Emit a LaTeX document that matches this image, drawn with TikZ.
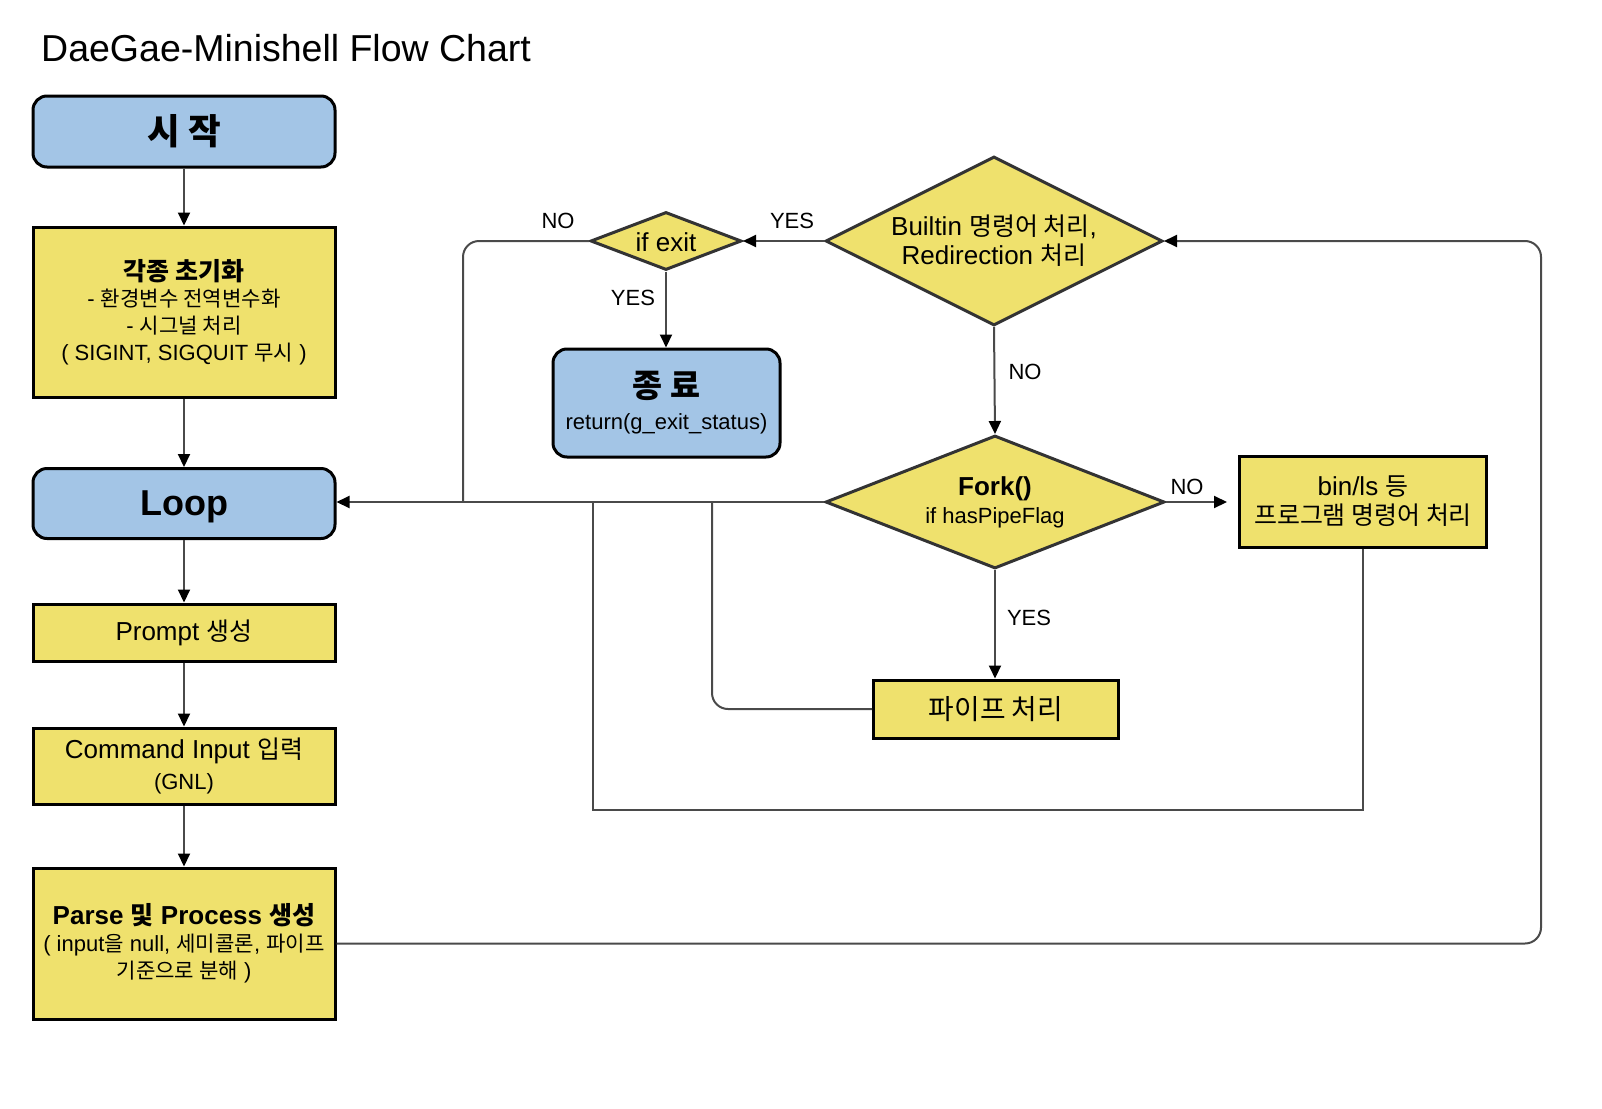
\documentclass[tikz,border=0pt]{standalone}
\usepackage{fontspec}
\setmainfont{Liberation Sans}
\newfontfamily\kr[Scale=0.96]{Noto Sans CJK KR}
\usetikzlibrary{shapes.geometric,arrows.meta}
\definecolor{boxblue}{HTML}{A3C5E6}
\definecolor{boxyellow}{HTML}{EFE16D}
\definecolor{linegray}{HTML}{4A4A4A}
\newcommand\fsz[2]{\fontsize{#1pt}{#2pt}\selectfont}
\begin{document}
\begin{tikzpicture}[x=1pt,y=-1pt,
  term/.style={draw=black, line width=3pt, fill=boxblue, rounded corners=14pt, inner sep=0pt, align=center},
  proc/.style={draw=black, line width=3pt, fill=boxyellow, inner sep=0pt, align=center},
  dec/.style={draw=black!80, line width=3pt, fill=boxyellow, diamond, inner sep=0pt},
  dtext/.style={inner sep=0pt, align=center},
  conn/.style={draw=linegray, line width=2pt},
  arr/.style={conn, -{Triangle[length=13pt,width=12pt,color=black]}},
  lbl/.style={font=\fsz{22}{26}, inner sep=0pt}
]
\useasboundingbox[fill=white] (0,0) rectangle (1602,1108);

\node[anchor=west, font=\fsz{37.5}{40}, inner sep=0pt] (title) at (41,48) {DaeGae-Minishell Flow Chart};

% left column
\node[term, minimum width=302pt, minimum height=71pt, font=\kr\bfseries\fsz{37}{40}] (start) at (184,131.5) {시 작};
\node[proc, minimum width=302pt, minimum height=170pt, font=\fsz{22}{26.7}] (init) at (184,312)
  {{\kr\bfseries\fsz{26}{26.7}각종 초기화}\\- {\kr 환경변수 전역변수화}\\- {\kr 시그널 처리}\\( SIGINT, SIGQUIT {\kr 무시} )};
\node[term, minimum width=302pt, minimum height=70pt, text depth=0pt, font=\bfseries\fsz{36}{40}] (loop) at (184,503.5) {Loop};
\node[proc, minimum width=302pt, minimum height=57pt, font=\fsz{26}{30}] (prompt) at (184,632.5) {Prompt {\kr 생성}};
\node[proc, minimum width=302pt, minimum height=76pt, font=\fsz{26}{31}] (cmd) at (184,766)
  {Command Input {\kr 입력}\\{\fsz{22}{31}(GNL)}};
\node[proc, minimum width=302pt, minimum height=151pt, font=\fsz{22}{27}] (parse) at (184,943.5)
  {{\bfseries\fsz{26}{27}Parse {\kr 및} Process {\kr 생성}}\\( input{\kr 을} null, {\kr 세미콜론}, {\kr 파이프}\\{\kr 기준으로 분해} )};

% decisions and right part
\node[dec, minimum width=151pt, minimum height=58pt] (ifexit) at (666,241) {};
\node[dtext, font=\fsz{26}{30}] (ifexitT) at (666,242) {if exit};
\node[term, minimum width=227pt, minimum height=108pt, font=\fsz{22}{32}] (end) at (666.5,403)
  {{\kr\bfseries\fsz{34}{32}종 료}\\return(g\_exit\_status)};
\node[dec, minimum width=337pt, minimum height=169pt] (builtin) at (994,241) {};
\node[dtext, font=\fsz{26}{29}] (builtinT) at (994,241) {Builtin {\kr 명령어 처리},\\Redirection {\kr 처리}};
\node[dec, minimum width=339pt, minimum height=133pt] (fork) at (995,502) {};
\node[dtext, font=\fsz{22}{28}] (forkT) at (995,502) {{\bfseries\fsz{26}{28}Fork()}\\if hasPipeFlag};
\node[proc, minimum width=247pt, minimum height=91pt, font=\fsz{26}{29}] (binls) at (1363,501.5)
  {bin/ls {\kr 등}\\{\kr 프로그램 명령어 처리}};
\node[proc, minimum width=245pt, minimum height=58pt, font=\kr\fsz{29}{32}] (pipe) at (996,709) {파이프 처리};

% helper coordinates
\coordinate (rx) at (1541,241);
\coordinate (nx) at (463,241);
\coordinate (px) at (712,709);
\coordinate (bl) at (593,810);

% connectors
\draw[arr] (start) -- (init);
\draw[arr] (init) -- (loop);
\draw[arr] (loop) -- (prompt);
\draw[arr] (prompt) -- (cmd);
\draw[arr] (cmd) -- (parse);
\draw[arr, rounded corners=16pt] (parse.east) -- (parse.east -| rx) -- (rx) -- (builtin.east);
\draw[arr] (builtin.west) -- (ifexit.east);
\draw[conn, rounded corners=16pt] (ifexit.west) -- (nx) -- (nx |- fork.west);
\draw[arr] (ifexit.south) -- (ifexit.south |- end.north);
\draw[arr] (builtin.south) -- (fork.north);
\draw[arr] (fork.west) -- (fork.west -| loop.east);
\draw[arr, shorten >=11pt] (fork.east) -- (fork.east -| binls.west);
\draw[arr] (fork.south) -- (fork.south |- pipe.north);
\draw[conn, rounded corners=16pt] (pipe.west) -- (px) -- (px |- fork.west);
\draw[conn] (binls.south) -- (binls.south |- bl) -- (bl) -- (bl |- fork.west);

% labels
\node[lbl] (lyes1) at (792,221) {YES};
\node[lbl] (lno1) at (558,221) {NO};
\node[lbl] (lyes2) at (633,298) {YES};
\node[lbl] (lno2) at (1025,372) {NO};
\node[lbl] (lno3) at (1187,487) {NO};
\node[lbl] (lyes3) at (1029,618) {YES};
\end{tikzpicture}
\end{document}
